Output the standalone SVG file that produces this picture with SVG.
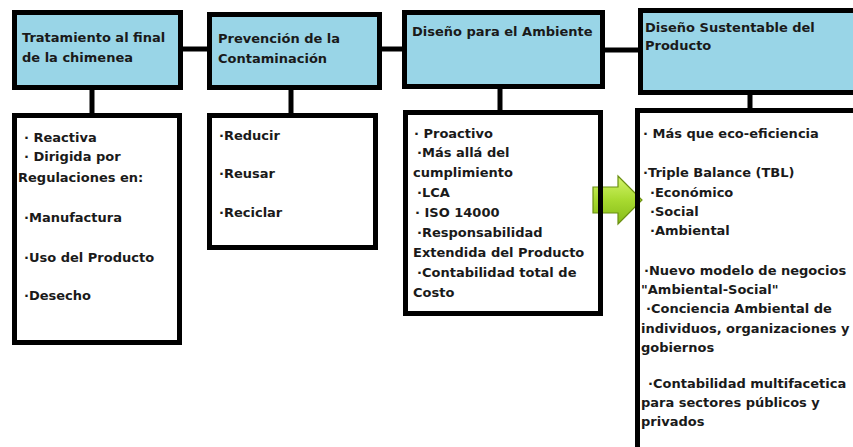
<svg xmlns="http://www.w3.org/2000/svg" width="853" height="447" viewBox="0 0 853 447">
<defs>
<style>
.hd{fill:#99d5e7;stroke:#000;stroke-width:5}
.bx{fill:#fff;stroke:#000;stroke-width:5}
.cn{stroke:#000;stroke-width:5;fill:none}
text{font-family:"DejaVu Sans","Liberation Sans",sans-serif;font-weight:bold;font-size:13px;fill:#1a1a1a}
</style>
<linearGradient id="ag" x1="0" y1="0" x2="0" y2="1">
<stop offset="0" stop-color="#d4f56a"/>
<stop offset="0.5" stop-color="#a8da30"/>
<stop offset="1" stop-color="#86bb18"/>
</linearGradient>
</defs>
<rect width="853" height="447" fill="#fff"/>
<g id="connectors">
<line class="cn" x1="180" y1="49" x2="210" y2="49"/>
<line class="cn" x1="380" y1="49" x2="405" y2="49"/>
<line class="cn" x1="602" y1="50" x2="641" y2="50"/>
<line class="cn" x1="92" y1="88" x2="92" y2="116"/>
<line class="cn" x1="291" y1="88" x2="291" y2="116"/>
<line class="cn" x1="500" y1="87" x2="500" y2="113"/>
<line class="cn" x1="750" y1="93" x2="750" y2="111"/>
</g>
<g id="n1">
<rect class="hd" x="14.5" y="12.5" width="166" height="75"/>
<text x="22" y="42">Tratamiento al final</text>
<text x="22" y="62">de la chimenea</text>
</g>
<g id="n2">
<rect class="hd" x="209.5" y="14.5" width="170" height="73"/>
<text x="218" y="43">Prevención de la</text>
<text x="218" y="63">Contaminación</text>
</g>
<g id="n3">
<rect class="hd" x="404.5" y="12.5" width="198" height="74"/>
<text x="412" y="36">Diseño para el Ambiente</text>
</g>
<g id="n4">
<rect class="hd" x="640.5" y="10.5" width="230" height="82"/>
<text x="645" y="32">Diseño Sustentable del</text>
<text x="645" y="50">Producto</text>
</g>
<g id="b1">
<rect class="bx" x="14.5" y="115.5" width="165" height="227"/>
<text x="24" y="142">· Reactiva</text>
<text x="24" y="161">· Dirigida por</text>
<text x="18" y="182">Regulaciones en:</text>
<text x="24" y="222">·Manufactura</text>
<text x="24" y="262">·Uso del Producto</text>
<text x="24" y="300">·Desecho</text>
</g>
<g id="b2">
<rect class="bx" x="209.5" y="115.5" width="166" height="132"/>
<text x="219" y="140">·Reducir</text>
<text x="219" y="178">·Reusar</text>
<text x="219" y="217">·Reciclar</text>
</g>
<g id="b3">
<rect class="bx" x="405.5" y="112.5" width="195" height="201"/>
<text x="414" y="138">· Proactivo</text>
<text x="417" y="157">·Más allá del</text>
<text x="413" y="177">cumplimiento</text>
<text x="417" y="197">·LCA</text>
<text x="415" y="217">· ISO 14000</text>
<text x="417" y="237">·Responsabilidad</text>
<text x="413" y="257">Extendida del Producto</text>
<text x="417" y="277">·Contabilidad total de</text>
<text x="413" y="297">Costo</text>
</g>
<g id="b4">
<rect class="bx" x="637.5" y="110.5" width="230" height="400"/>
<text x="643" y="138">· Más que eco-eficiencia</text>
<text x="643" y="177">·Triple Balance (TBL)</text>
<text x="650" y="197">·Económico</text>
<text x="650" y="216">·Social</text>
<text x="650" y="235">·Ambiental</text>
<text x="644" y="275">·Nuevo modelo de negocios</text>
<text x="641" y="294">"Ambiental-Social"</text>
<text x="646" y="313">·Conciencia Ambiental de</text>
<text x="641" y="333">individuos, organizaciones y</text>
<text x="641" y="352">gobiernos</text>
<text x="648" y="388">·Contabilidad multifacetica</text>
<text x="641" y="407">para sectores públicos y</text>
<text x="641" y="426">privados</text>
</g>
<g id="arrow">
<polygon points="593,187 618,187 618,176 642,200 618,224 618,213 593,213" fill="url(#ag)" stroke="#6b8f12" stroke-width="1.2"/>
<line x1="600.5" y1="172" x2="600.5" y2="228" stroke="#000" stroke-width="5"/>
<line x1="637.5" y1="172" x2="637.5" y2="228" stroke="#000" stroke-width="5"/>
</g>
</svg>
